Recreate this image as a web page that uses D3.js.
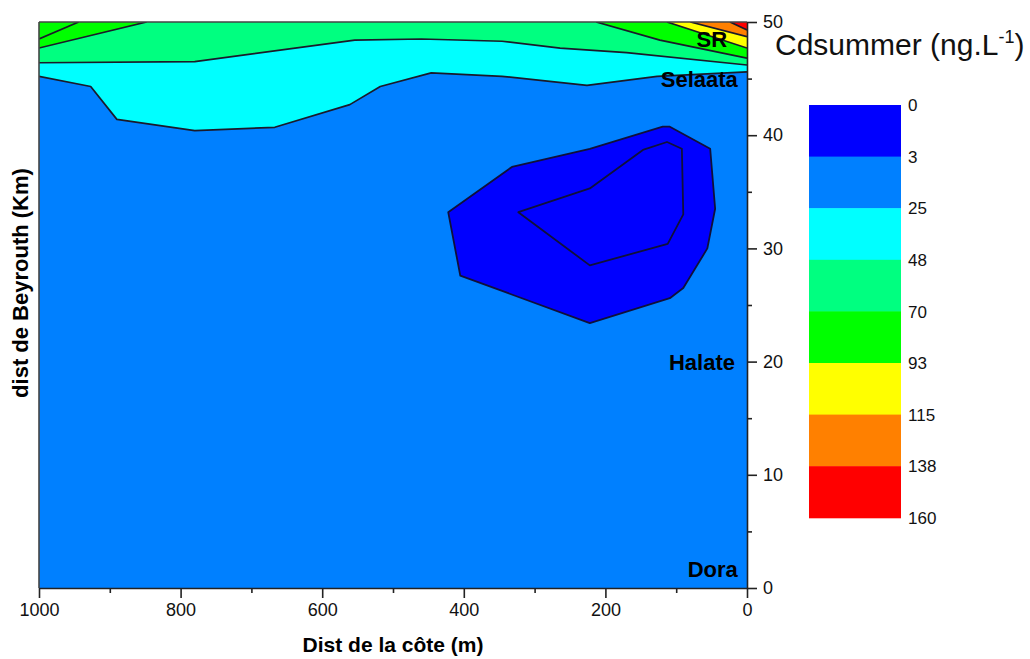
<!DOCTYPE html>
<html>
<head>
<meta charset="utf-8">
<script src="https://cdn.jsdelivr.net/npm/d3@7"></script>
<style>
  html, body { margin: 0; padding: 0; background: #ffffff; }
  svg { display: block; font-family: "Liberation Sans", Arial, sans-serif; }
</style>
</head>
<body>
<svg id="chart" width="1030" height="659"></svg>
<script>
// Cd concentration classes (ng/L) and their fill colours
const thresholds = [0, 3, 25, 48, 70, 93, 115, 138, 160];
const bandColors = ["#0000ff", "#0080ff", "#00ffff", "#00ff80", "#00ff00", "#ffff00", "#ff8000", "#ff0000"];

// Axis ticks
const xTicks = [1000, 800, 600, 400, 200, 0];
const xMinorTicks = [900, 700, 500, 300, 100];
const yTicks = [0, 10, 20, 30, 40, 50];
const yMinorTicks = [5, 15, 25, 35, 45];

// Contour lines: [distance from coast (m), distance from Beirut (km)]
const c25 = [[1000, 45.2], [927, 44.3], [890, 41.4], [780, 40.4], [667, 40.7], [561, 42.7],
             [518, 44.3], [446, 45.5], [346, 45.2], [226, 44.4], [127, 45.2], [0, 45.6]];
const c48 = [[1000, 46.4], [780, 46.5], [554, 48.4], [460, 48.5], [346, 48.3], [264, 47.7],
             [170, 47.3], [0, 46.2]];
const c70West = [[1000, 47.7], [848, 50]];
const c93West = [[1000, 48.5], [944, 50]];
const c70East = [[213, 50], [123, 48.4], [0, 46.8]];
const c93East = [[113, 50], [0, 47.7]];
const c115East = [[80, 50], [0, 48.7]];
const c138East = [[24, 50], [0, 49.3]];

// Closed low-concentration patch (below 3 ng/L) and its inner contour
const c3Outer = [[422, 33.2], [332, 37.2], [222, 38.8], [119, 40.75], [109, 40.75], [52, 38.8],
                 [45, 33.5], [56, 30.0], [90, 26.5], [109, 25.6], [222, 23.4], [405, 27.6]];
const c3Inner = [[323, 33.2], [222, 35.3], [147, 38.7], [113, 39.4], [92, 38.8], [90, 33.0],
                 [112, 30.4], [222, 28.5]];

// Filled regions above each open contour, with the class index of their colour
const openRegions = [
  { band: 2, pts: c25 },
  { band: 3, pts: c48 },
  { band: 4, pts: c70West },
  { band: 4, pts: c93West },
  { band: 4, pts: c70East },
  { band: 5, pts: c93East },
  { band: 6, pts: c115East },
  { band: 7, pts: c138East }
];
const closedRegions = [
  { band: 0, pts: c3Outer },
  { band: 0, pts: c3Inner }
];

// Station names along the coast
const sites = [
  { name: "SR", dist: 28, km: 48.5 },
  { name: "Selaata", dist: 13, km: 45 },
  { name: "Halate", dist: 17, km: 20 },
  { name: "Dora", dist: 13, km: 1.7 }
];

const svg = d3.select("#chart");
const plot = { left: 39, right: 747, top: 22, bottom: 588 };

const x = d3.scaleLinear().domain([1000, 0]).range([plot.left, plot.right]);
const y = d3.scaleLinear().domain([0, 50]).range([plot.bottom, plot.top]);

svg.append("defs").append("clipPath").attr("id", "plotClip")
  .append("rect")
  .attr("x", plot.left).attr("y", plot.top)
  .attr("width", plot.right - plot.left).attr("height", plot.bottom - plot.top);

const g = svg.append("g").attr("clip-path", "url(#plotClip)");

// Base class 3–25 covers the whole section
g.append("rect")
  .attr("x", plot.left).attr("y", plot.top)
  .attr("width", plot.right - plot.left).attr("height", plot.bottom - plot.top)
  .attr("fill", bandColors[1]);

const line = d3.line().x(d => x(d[0])).y(d => y(d[1]));

function closeUpward(pts) {
  const poly = pts.slice();
  const last = pts[pts.length - 1], first = pts[0];
  if (last[1] < 50) poly.push([last[0], 50]);
  if (first[1] < 50) poly.push([first[0], 50]);
  return poly;
}

openRegions.forEach(r => {
  g.append("path")
    .attr("d", line(closeUpward(r.pts)) + "Z")
    .attr("fill", bandColors[r.band])
    .attr("stroke", "none");
});
openRegions.forEach(r => {
  g.append("path")
    .attr("d", line(r.pts))
    .attr("fill", "none")
    .attr("stroke", "#1a1a2a")
    .attr("stroke-width", 1.7)
    .attr("stroke-linejoin", "round");
});
closedRegions.forEach(r => {
  g.append("path")
    .attr("d", line(r.pts) + "Z")
    .attr("fill", bandColors[r.band])
    .attr("stroke", "#10103a")
    .attr("stroke-width", 1.8)
    .attr("stroke-linejoin", "round");
});

// Frame: top and left edges
svg.append("line")
  .attr("x1", plot.left).attr("x2", plot.right).attr("y1", plot.top).attr("y2", plot.top)
  .attr("stroke", "#444").attr("stroke-width", 1.6);
svg.append("line")
  .attr("x1", plot.left).attr("x2", plot.left).attr("y1", plot.top).attr("y2", plot.bottom)
  .attr("stroke", "#444").attr("stroke-width", 1.6);

// Bottom axis
svg.append("g").attr("transform", `translate(0,${plot.bottom})`)
  .call(d3.axisBottom(x).tickValues(xTicks).tickSize(10).tickSizeOuter(0).tickPadding(5)
    .tickFormat(d3.format("d")));
svg.append("g").attr("transform", `translate(0,${plot.bottom})`)
  .call(d3.axisBottom(x).tickValues(xMinorTicks).tickSize(5).tickSizeOuter(0).tickFormat(""))
  .select(".domain").remove();

// Right axis
svg.append("g").attr("transform", `translate(${plot.right},0)`)
  .call(d3.axisRight(y).tickValues(yTicks).tickSize(10).tickSizeOuter(0).tickPadding(6)
    .tickFormat(d3.format("d")));
svg.append("g").attr("transform", `translate(${plot.right},0)`)
  .call(d3.axisRight(y).tickValues(yMinorTicks).tickSize(5).tickSizeOuter(0).tickFormat(""))
  .select(".domain").remove();

svg.selectAll(".domain").attr("stroke", "#222").attr("stroke-width", 1.6);
svg.selectAll(".tick line").attr("stroke", "#222").attr("stroke-width", 1.6);
svg.selectAll(".tick text")
  .attr("font-family", "\"Liberation Sans\", Arial, sans-serif")
  .attr("font-size", 18).attr("fill", "#111");

// Station labels
svg.selectAll(".site").data(sites).enter().append("text")
  .attr("class", "site")
  .attr("x", d => x(d.dist)).attr("y", d => y(d.km))
  .attr("dy", "0.36em")
  .attr("text-anchor", "end")
  .attr("font-size", 22).attr("font-weight", "bold").attr("fill", "#000")
  .text(d => d.name);

// Axis titles
svg.append("text")
  .attr("x", 393).attr("y", 652)
  .attr("text-anchor", "middle")
  .attr("font-size", 21).attr("font-weight", "bold").attr("fill", "#000")
  .text("Dist de la côte (m)");
svg.append("text")
  .attr("transform", "translate(28,283) rotate(-90)")
  .attr("text-anchor", "middle")
  .attr("font-size", 22).attr("font-weight", "bold").attr("fill", "#000")
  .text("dist de Beyrouth (Km)");

// Colour scale legend
const legend = { x: 809, y: 105, w: 92, h: 51.6 };
const lg = svg.append("g");
lg.selectAll("rect").data(bandColors).enter().append("rect")
  .attr("x", legend.x).attr("y", (d, i) => legend.y + i * legend.h)
  .attr("width", legend.w).attr("height", legend.h + 0.5)
  .attr("fill", d => d);
lg.selectAll("text").data(thresholds).enter().append("text")
  .attr("x", legend.x + legend.w + 7).attr("y", (d, i) => legend.y + i * legend.h)
  .attr("dy", "0.36em")
  .attr("font-size", 17).attr("fill", "#111")
  .text(d => d);

const title = svg.append("text")
  .attr("x", 775).attr("y", 55)
  .attr("font-size", 30).attr("fill", "#111");
title.append("tspan").text("Cdsummer (ng.L");
title.append("tspan").attr("dy", -12).attr("font-size", 18).text("-1");
title.append("tspan").attr("dy", 12).text(")");
</script>
</body>
</html>
